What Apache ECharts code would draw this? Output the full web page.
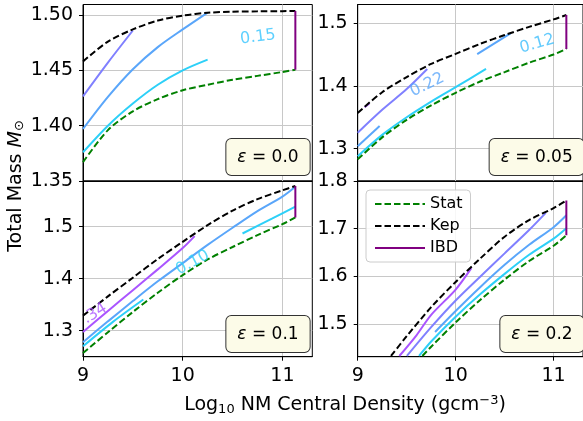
<!DOCTYPE html>
<html><head><meta charset="utf-8">
<script src="https://cdn.jsdelivr.net/npm/echarts@6/dist/echarts.min.js"></script>
<style>html,body{margin:0;padding:0;background:#fff}#c{width:583px;height:421px}</style>
</head><body><div id="c"></div>
<script>
// ---------- data ----------
const xTicks = [9, 10, 11];
const yTicks = [[1.35, 1.40, 1.45, 1.50], [1.3, 1.4, 1.5], [1.3, 1.4, 1.5], [1.5, 1.6, 1.7, 1.8]];
const epsLabels = ['0.0', '0.05', '0.1', '0.2'];
const ibdX = 11.13;

// panel 1 (eps = 0.0)
const p1StatX = [9.0, 9.25, 9.5, 9.75, 10.0, 10.25, 10.5, 10.75, 11.0, 11.13];
const p1StatY = [1.367, 1.396, 1.413, 1.424, 1.432, 1.437, 1.4415, 1.445, 1.4485, 1.4505];
const p1KepX = [9.0, 9.25, 9.5, 9.75, 10.0, 10.25, 10.5, 10.75, 11.0, 11.13];
const p1KepY = [1.458, 1.476, 1.487, 1.495, 1.4995, 1.502, 1.503, 1.5033, 1.5035, 1.5036];
const p1PeriX = [9.0, 9.25, 9.5];
const p1PeriY = [1.4265, 1.457, 1.486];
const p1BlueX = [9.0, 9.25, 9.5, 9.75, 10.0, 10.25];
const p1BlueY = [1.397, 1.426, 1.451, 1.471, 1.487, 1.5022];
const p1CyanX = [9.0, 9.25, 9.5, 9.75, 10.0, 10.25];
const p1CyanY = [1.376, 1.400, 1.420, 1.437, 1.450, 1.4597];
const p1Ibd = [1.4505, 1.5036];

// panel 2 (eps = 0.05)
const p2StatX = [9.0, 9.25, 9.5, 9.75, 10.0, 10.25, 10.5, 10.75, 11.0, 11.13];
const p2StatY = [1.283, 1.318, 1.346, 1.369, 1.389, 1.407, 1.422, 1.437, 1.450, 1.459];
const p2KepX = [9.0, 9.25, 9.5, 9.75, 10.0, 10.25, 10.5, 10.75, 11.0, 11.13];
const p2KepY = [1.357, 1.390, 1.414, 1.435, 1.451, 1.467, 1.481, 1.494, 1.506, 1.513];
const p2VioX = [9.07, 9.12];
const p2VioY = [1.366, 1.372];
const p2PeriX = [9.0, 9.25, 9.5, 9.71];
const p2PeriY = [1.3255, 1.362, 1.395, 1.427];
const p2BlueAX = [9.0, 9.224];
const p2BlueAY = [1.304, 1.336];
const p2BlueBX = [10.22, 10.56];
const p2BlueBY = [1.4505, 1.4837];
const p2CyanX = [9.0, 9.25, 9.5, 9.75, 10.0, 10.31];
const p2CyanY = [1.288, 1.322, 1.350, 1.375, 1.398, 1.427];
const p2Ibd = [1.459, 1.513];

// panel 3 (eps = 0.1)
const p3StatX = [9.0, 9.25, 9.5, 9.75, 10.0, 10.25, 10.5, 10.75, 11.0, 11.13];
const p3StatY = [1.257, 1.297, 1.336, 1.373, 1.407, 1.437, 1.461, 1.484, 1.505, 1.518];
const p3KepX = [9.0, 9.25, 9.5, 9.75, 10.0, 10.25, 10.5, 10.75, 11.0, 11.13];
const p3KepY = [1.329, 1.366, 1.402, 1.438, 1.471, 1.503, 1.531, 1.553, 1.570, 1.5785];
const p3VioX = [9.0, 9.25, 9.5, 9.75, 10.0, 10.12];
const p3VioY = [1.2975, 1.338, 1.378, 1.418, 1.459, 1.482];
const p3BlueX = [9.0, 9.25, 9.5, 9.75, 10.0, 10.25, 10.5, 10.75, 11.0, 11.13];
const p3BlueY = [1.278, 1.318, 1.357, 1.395, 1.430, 1.465, 1.498, 1.530, 1.558, 1.577];
const p3CyanAX = [9.0, 9.3, 9.605];
const p3CyanAY = [1.270, 1.317, 1.360];
const p3CyanBX = [10.6, 10.9, 11.13];
const p3CyanBY = [1.487, 1.516, 1.5386];
const p3Ibd = [1.518, 1.5785];

// panel 4 (eps = 0.2)
const p4StatX = [9.66, 9.75, 10.0, 10.25, 10.5, 10.75, 11.0, 11.13];
const p4StatY = [1.4325, 1.452, 1.503, 1.550, 1.593, 1.632, 1.664, 1.686];
const p4KepX = [9.34, 9.5, 9.75, 10.0, 10.25, 10.5, 10.75, 11.0, 11.13];
const p4KepY = [1.4325, 1.474, 1.535, 1.588, 1.637, 1.683, 1.718, 1.743, 1.759];
const p4VioX = [9.425, 9.6, 9.75, 10.0, 10.16];
const p4VioY = [1.4325, 1.476, 1.519, 1.572, 1.617];
const p4PeriX = [9.502, 9.75, 10.0, 10.25, 10.5, 10.75, 10.92];
const p4PeriY = [1.4325, 1.493, 1.549, 1.599, 1.648, 1.697, 1.733];
const p4BlueX = [9.79, 10.0, 10.25, 10.5, 10.75, 11.0, 11.13];
const p4BlueY = [1.483, 1.527, 1.577, 1.624, 1.666, 1.703, 1.728];
const p4CyanX = [9.626, 9.75, 10.0, 10.25, 10.5, 10.75, 11.0, 11.13];
const p4CyanY = [1.4325, 1.463, 1.515, 1.562, 1.605, 1.645, 1.679, 1.701];
const p4Ibd = [1.686, 1.759];

// contour labels: panel, x, y, text, rotation
const clabPanel = [0, 1, 1, 2, 2];
const clabX = [10.755, 10.832, 9.71, 10.10, 9.12];
const clabY = [1.480, 1.467, 1.4016, 1.431, 1.333];
const clabText = ['0.15', '0.12', '0.22', '0.10', '.34'];
const clabRot = [7, 16, 26, 28, 32];
</script>
<script>
const FONT = 'DejaVu Sans';
const C = { cyan: '#2dd0f8', blue: '#5aa6fa', peri: '#8080ff', vio: '#aa55ff', stat: '#008000', kep: '#000000', ibd: '#800080' };
const clabColor = ['#35c4ff', '#3dbefc', '#5aa6fa', '#2dd0f8', '#aa55ff'];
const yRange = [[1.35, 1.5095], [1.2485, 1.5297], [1.25, 1.588], [1.431, 1.8]];
const yDec = [2, 1, 1, 1];
const gridPos = [
  { left: 83, top: 4.5, width: 229.3, height: 176.5 },
  { left: 357.7, top: 4.5, width: 229.3, height: 176.5 },
  { left: 83, top: 181, width: 229.3, height: 175.7 },
  { left: 357.7, top: 181, width: 229.3, height: 175.7 }
];
const zip = (xs, ys) => xs.map((x, i) => [x, ys[i]]);

const grids = gridPos.map(g => Object.assign({ show: true, borderColor: '#000', borderWidth: 1, backgroundColor: 'transparent' }, g));
const xAxes = [0, 1, 2, 3].map(i => {
  const bottom = i >= 2;
  return {
    type: 'value', gridIndex: i, min: 9, max: 11.3,
    axisLine: { show: true, lineStyle: { color: '#000', width: 1 } },
    axisTick: { show: true, length: bottom ? 4 : 0, customValues: xTicks, lineStyle: { color: '#000' } },
    axisLabel: { show: bottom, customValues: xTicks, margin: 10, fontSize: 19, color: '#000', fontFamily: FONT },
    splitLine: { show: true, lineStyle: { color: '#c8c8c8', width: 1 } }
  };
});
const yAxes = [0, 1, 2, 3].map(i => ({
  type: 'value', gridIndex: i, min: yRange[i][0], max: yRange[i][1],
  axisLine: { show: true, lineStyle: { color: '#000', width: 1 } },
  axisTick: { show: true, length: 4, customValues: yTicks[i], lineStyle: { color: '#000' } },
  axisLabel: { customValues: yTicks[i], margin: 10, fontSize: 19, color: '#000', fontFamily: FONT,
    formatter: v => Number(v).toFixed(yDec[i]) },
  splitLine: { show: true, lineStyle: { color: '#c8c8c8', width: 1 } }
}));

const series = [];
function line(name, xs, ys, gi, color, dashed, z) {
  series.push({
    type: 'line', name: name, xAxisIndex: gi, yAxisIndex: gi, data: zip(xs, ys),
    showSymbol: false, symbol: 'none', smooth: 0.3, z: z || 2, silent: true,
    lineStyle: { color: color, width: 2, type: dashed ? [6.5, 3] : 'solid' },
    itemStyle: { color: color }
  });
}
// contours
line('c1p', p1PeriX, p1PeriY, 0, C.peri); line('c1b', p1BlueX, p1BlueY, 0, C.blue); line('c1c', p1CyanX, p1CyanY, 0, C.cyan);
line('c2v', p2VioX, p2VioY, 1, C.vio); line('c2p', p2PeriX, p2PeriY, 1, C.peri); line('c2ba', p2BlueAX, p2BlueAY, 1, C.blue);
line('c2bb', p2BlueBX, p2BlueBY, 1, C.blue); line('c2c', p2CyanX, p2CyanY, 1, C.cyan);
line('c3v', p3VioX, p3VioY, 2, C.vio); line('c3b', p3BlueX, p3BlueY, 2, C.blue);
line('c3ca', p3CyanAX, p3CyanAY, 2, C.cyan); line('c3cb', p3CyanBX, p3CyanBY, 2, C.cyan);
line('c4v', p4VioX, p4VioY, 3, C.vio); line('c4p', p4PeriX, p4PeriY, 3, C.peri); line('c4b', p4BlueX, p4BlueY, 3, C.blue); line('c4c', p4CyanX, p4CyanY, 3, C.cyan);
// boundaries
const stats = [[p1StatX, p1StatY], [p2StatX, p2StatY], [p3StatX, p3StatY], [p4StatX, p4StatY]];
const keps = [[p1KepX, p1KepY], [p2KepX, p2KepY], [p3KepX, p3KepY], [p4KepX, p4KepY]];
const ibds = [p1Ibd, p2Ibd, p3Ibd, p4Ibd];
for (let i = 0; i < 4; i++) {
  line('Stat', stats[i][0], stats[i][1], i, C.stat, true, 3);
  line('Kep', keps[i][0], keps[i][1], i, C.kep, true, 3);
  line('IBD', [ibdX, ibdX], ibds[i], i, C.ibd, false, 4);
}
// contour labels
clabText.forEach((t, k) => {
  series.push({
    type: 'scatter', xAxisIndex: clabPanel[k], yAxisIndex: clabPanel[k], symbolSize: 0, silent: true, z: 5,
    data: [[clabX[k], clabY[k]]],
    label: { show: true, position: 'inside', formatter: t, rotate: clabRot[k], color: clabColor[k], fontSize: 16, fontFamily: FONT }
  });
});

const epsCenters = [[268, 157], [536.7, 157], [268, 334], [542, 334]];
const graphic = epsLabels.map((e, i) => ({
  type: 'text', x: epsCenters[i][0], y: epsCenters[i][1], z: 10,
  style: {
    text: '{i|ε} = ' + e, align: 'center', verticalAlign: 'middle', fill: '#000', fontSize: 17, fontFamily: FONT,
    backgroundColor: '#fcfbe8', borderColor: '#333', borderWidth: 1, borderRadius: 5, padding: [10, 11, 9, 11],
    rich: { i: { fontStyle: 'italic', fontSize: 17, fontFamily: FONT } }
  }
}));
graphic.push({
  type: 'text', x: 16, y: 186, rotation: Math.PI / 2,
  style: { text: 'Total Mass {m|M}{s|⊙}', align: 'center', verticalAlign: 'middle', fill: '#000', fontSize: 19, fontFamily: FONT,
    rich: { m: { fontStyle: 'italic', fontSize: 19, fontFamily: FONT }, s: { fontSize: 13, fontFamily: FONT, verticalAlign: 'bottom', padding: [8, 0, 0, 0] } } }
});
graphic.push({
  type: 'text', x: 345, y: 405,
  style: { text: 'Log{s|10} NM Central Density (gcm{p|−3})', align: 'center', verticalAlign: 'middle', fill: '#000', fontSize: 19, fontFamily: FONT,
    rich: { s: { fontSize: 13, fontFamily: FONT, verticalAlign: 'bottom', padding: [9, 0, 0, 0] }, p: { fontSize: 13, fontFamily: FONT, verticalAlign: 'top', padding: [0, 0, 8, 0] } } }
});

const chart = echarts.init(document.getElementById('c'), null, { renderer: 'canvas' });
chart.setOption({
  animation: false,
  backgroundColor: '#fff',
  grid: grids, xAxis: xAxes, yAxis: yAxes, series: series, graphic: graphic,
  legend: {
    data: ['Stat', 'Kep', 'IBD'], orient: 'vertical', left: 366, top: 190, itemWidth: 50, itemHeight: 14, itemGap: 6, itemTextGap: 12,
    padding: [6, 8, 6, 8], backgroundColor: 'rgba(255,255,255,0.85)', borderColor: '#ccc', borderWidth: 1, borderRadius: 4,
    itemStyle: { opacity: 0 },
    textStyle: { fontSize: 16, fontFamily: FONT, color: '#000' }, selectedMode: false
  }
});
</script></body></html>
